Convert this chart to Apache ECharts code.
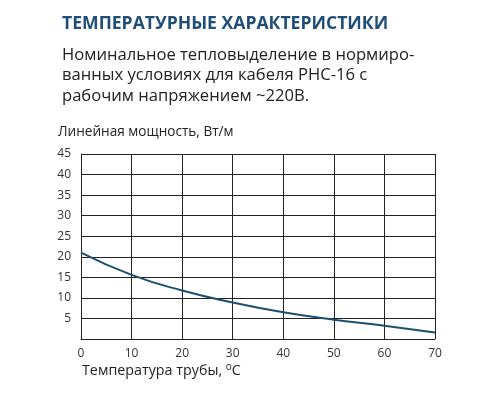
<!DOCTYPE html>
<html><head><meta charset="utf-8">
<script src="https://cdn.jsdelivr.net/npm/echarts@6/dist/echarts.min.js"></script>
<style>html,body{margin:0;padding:0;background:#fff}#c{width:500px;height:400px}</style>
</head><body><div id="c"></div>
<script>
const titleText = 'ТЕМПЕРАТУРНЫЕ ХАРАКТЕРИСТИКИ';
const subtitleLines = ['Номинальное тепловыделение в нормиро-', 'ванных условиях для кабеля РНС-16 с', 'рабочим напряжением ~220В.'];
const yAxisTitle = 'Линейная мощность, Вт/м';
const xAxisTitle = 'Температура трубы, ';
const temps = [0, 10, 20, 30, 40, 50, 60, 70];
const power = [21.0, 15.6, 11.8, 8.9, 6.5, 4.7, 3.2, 1.6];

const chart = echarts.init(document.getElementById('c'));
const F = '"Open Sans", sans-serif';
chart.setOption({
  animation: false,
  backgroundColor: '#fff',
  graphic: [
    { type: 'text', left: 62, top: 15, style: { text: titleText, fill: '#1f4e79', font: 'bold 17.6px ' + F } },
    { type: 'text', left: 62, top: 45, style: { text: subtitleLines.join('\n'), fill: '#222', font: '16.6px ' + F, lineHeight: 20.5 } },
    { type: 'text', left: 58, top: 125, style: { text: yAxisTitle, fill: '#222', font: '13.6px ' + F } },
    { type: 'text', left: 82, top: 362, style: {
        text: xAxisTitle + '{sup|o}C', fill: '#222', font: '14.3px ' + F,
        rich: { sup: { fontSize: 10, fontFamily: 'Open Sans', fill: '#222', verticalAlign: 'top', padding: [0, 0, 8, 0] } }
    } }
  ],
  grid: { left: 81, right: 65, top: 154, bottom: 61 },
  xAxis: {
    type: 'value', min: 0, max: 70, interval: 10,
    axisLine: { show: true, lineStyle: { color: '#222', width: 1 } },
    axisTick: { show: false },
    axisLabel: { color: '#333', fontSize: 12, fontFamily: 'Open Sans', margin: 9 },
    splitLine: { show: true, lineStyle: { color: '#222', width: 1 } }
  },
  yAxis: {
    type: 'value', min: 0, max: 45, interval: 5,
    axisLine: { show: true, lineStyle: { color: '#222', width: 1 } },
    axisTick: { show: false },
    axisLabel: { color: '#333', fontSize: 12, fontFamily: 'Open Sans', margin: 10, formatter: v => v === 0 ? '' : v },
    splitLine: { show: true, lineStyle: { color: '#222', width: 1 } }
  },
  series: [{
    type: 'line', smooth: true, symbol: 'none',
    data: temps.map((t, i) => [t, power[i]]),
    lineStyle: { color: '#1b4f72', width: 2 }
  }]
});
</script></body></html>
